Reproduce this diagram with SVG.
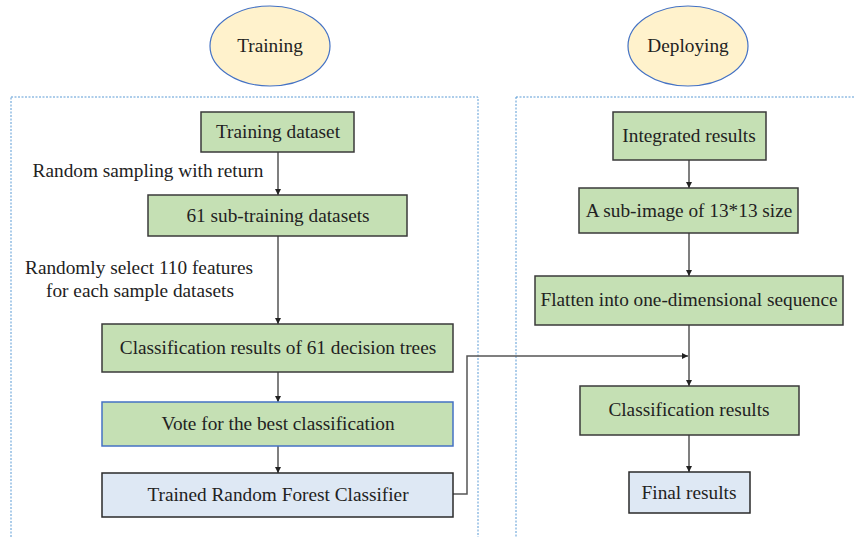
<svg xmlns="http://www.w3.org/2000/svg" width="855" height="537" viewBox="0 0 855 537">
  <style>
    text { font-family: "Liberation Serif", "Times New Roman", serif; font-size: 19.3px; fill: #222; text-anchor: middle; }
    .phase { fill: #fff2cc; stroke: #4472c4; stroke-width: 1.2; }
    .panel { fill: none; stroke: #5b9bd5; stroke-width: 1; stroke-dasharray: 2 1.5; }
    .step { fill: #c5e0b4; stroke: #3a3a3a; stroke-width: 1.5; }
    .step-blue { fill: #c5e0b4; stroke: #4472c4; stroke-width: 1.5; }
    .result { fill: #dee8f4; stroke: #2a2a2a; stroke-width: 1.5; }
    .edge { fill: none; stroke: #555; stroke-width: 1.5; }
  </style>
  <defs>
    <marker id="arrow" viewBox="0 0 10 10" refX="10" refY="5" markerWidth="6" markerHeight="6" markerUnits="userSpaceOnUse" orient="auto">
      <path d="M0,0 L10,5 L0,10 z" fill="#222"/>
    </marker>
  </defs>

  <rect width="855" height="537" fill="#fff"/>

  <!-- phase panels -->
  <g id="panels">
    <rect class="panel" x="11" y="97" width="467" height="460"/>
    <rect class="panel" x="516" y="97" width="360" height="460"/>
  </g>

  <!-- phase titles -->
  <g id="training">
    <ellipse class="phase" cx="270" cy="46" rx="60" ry="40"/>
    <text x="270" y="52">Training</text>
  </g>
  <g id="deploying">
    <ellipse class="phase" cx="688" cy="46" rx="60" ry="40"/>
    <text x="688" y="52">Deploying</text>
  </g>

  <!-- connectors -->
  <g id="connectors">
    <line class="edge" x1="278" y1="152" x2="278" y2="195" marker-end="url(#arrow)"/>
    <line class="edge" x1="278" y1="236" x2="278" y2="324" marker-end="url(#arrow)"/>
    <line class="edge" x1="278" y1="372" x2="278" y2="402" marker-end="url(#arrow)"/>
    <line class="edge" x1="278" y1="446" x2="278" y2="473" marker-end="url(#arrow)"/>
    <polyline class="edge" points="453,494 467,494 467,356 688,356" marker-end="url(#arrow)"/>
    <line class="edge" x1="689" y1="160" x2="689" y2="188" marker-end="url(#arrow)"/>
    <line class="edge" x1="689" y1="233" x2="689" y2="276" marker-end="url(#arrow)"/>
    <line class="edge" x1="689" y1="325" x2="689" y2="386" marker-end="url(#arrow)"/>
    <line class="edge" x1="689" y1="435" x2="689" y2="472" marker-end="url(#arrow)"/>
  </g>

  <!-- edge labels -->
  <g id="labels">
    <text x="148" y="177">Random sampling with return</text>
    <text x="139" y="274">Randomly select 110 features</text>
    <text x="140" y="297">for each sample datasets</text>
  </g>

  <!-- training steps -->
  <g id="training-dataset">
    <rect class="step" x="201" y="112" width="153" height="40"/>
    <text x="278" y="138">Training dataset</text>
  </g>
  <g id="sub-training">
    <rect class="step" x="148" y="195" width="259" height="41"/>
    <text x="278" y="222">61 sub-training datasets</text>
  </g>
  <g id="decision-trees">
    <rect class="step" x="102" y="324" width="351" height="48"/>
    <text x="278" y="354">Classification results of 61 decision trees</text>
  </g>
  <g id="vote">
    <rect class="step-blue" x="102" y="402" width="351" height="44"/>
    <text x="278" y="430">Vote for the best classification</text>
  </g>
  <g id="trained-classifier">
    <rect class="result" x="102" y="473" width="351" height="44"/>
    <text x="278" y="501">Trained Random Forest Classifier</text>
  </g>

  <!-- deploying steps -->
  <g id="integrated">
    <rect class="step" x="613" y="112" width="153" height="48"/>
    <text x="689" y="142">Integrated results</text>
  </g>
  <g id="sub-image">
    <rect class="step" x="579" y="188" width="219" height="45"/>
    <text x="689" y="217">A sub-image of 13*13 size</text>
  </g>
  <g id="flatten">
    <rect class="step" x="535" y="276" width="308" height="49"/>
    <text x="689" y="306">Flatten into one-dimensional sequence</text>
  </g>
  <g id="classification">
    <rect class="step" x="580" y="386" width="219" height="49"/>
    <text x="689" y="416">Classification results</text>
  </g>
  <g id="final">
    <rect class="result" x="629" y="472" width="121" height="41"/>
    <text x="689" y="499">Final results</text>
  </g>
</svg>
